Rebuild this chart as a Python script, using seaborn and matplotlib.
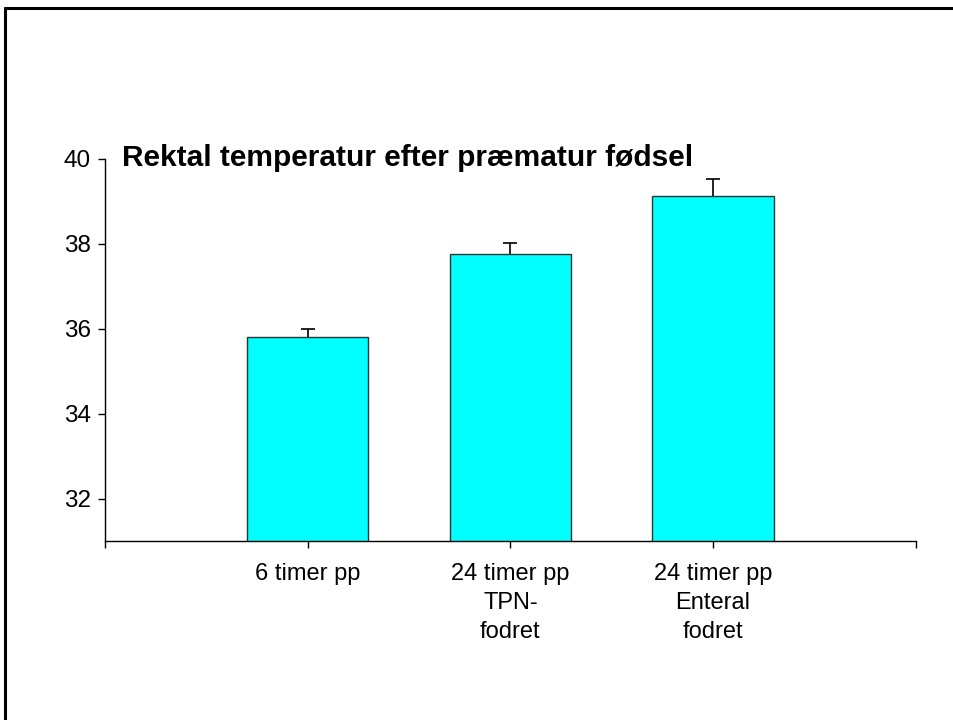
import matplotlib
matplotlib.use('Agg')
import matplotlib.pyplot as plt
import seaborn as sns
from matplotlib.lines import Line2D

# data
groups = ['6 timer pp', '24 timer pp\nTPN-\nfodret', '24 timer pp\nEnteral\nfodret']
temps = [35.81, 37.76, 39.12]
sem_up = [0.19, 0.27, 0.40]
y_ticks = [32, 34, 36, 38, 40]
title = 'Rektal temperatur efter præmatur fødsel'

sns.set_theme(style='ticks')
plt.rcParams['font.family'] = ['Liberation Sans', 'DejaVu Sans']

fig = plt.figure(figsize=(9.54, 7.2), dpi=100)
ax = fig.add_axes([0.110, 0.2486, 0.850, 0.5306])

sns.barplot(
    x=groups, y=temps, order=groups, color='#00FFFF', saturation=1,
    width=0.6, edgecolor='#333333', linewidth=1.0, ax=ax,
)
# upper error bars only
_, caps, _ = ax.errorbar(
    range(len(groups)), temps, yerr=[[0] * len(groups), sem_up],
    fmt='none', ecolor='black', elinewidth=1.2, capsize=5, capthick=1.2,
)
caps[0].set_visible(False)  # no cap on the bar top

ax.set_ylim(31, 40)
ax.set_yticks(y_ticks)
ax.set_yticklabels([str(t) for t in y_ticks])
ax.set_xlim(-1, 3)
ax.set_xticks([-1, 0, 1, 2, 3])
ax.set_xticklabels([''] + groups + [''])
ax.set_xlabel('')
ax.set_ylabel('')

for spine in ['top', 'right']:
    ax.spines[spine].set_visible(False)
for spine in ['left', 'bottom']:
    ax.spines[spine].set_color('black')
    ax.spines[spine].set_linewidth(1.0)

ax.tick_params(axis='y', direction='out', length=5, width=1, colors='black',
               labelsize=17.5, pad=5)
ax.tick_params(axis='x', direction='out', length=5, width=1, colors='black',
               labelsize=17, pad=11)
for lab in ax.get_xticklabels():
    lab.set_linespacing(1.4)

fig.text(122 / 954, 1 - 158 / 720, title, fontsize=21.5, fontweight='bold',
         ha='left', va='center', color='black')

# outer frame (top and left edges visible)
fig.add_artist(Line2D([5 / 954, 5 / 954], [0, 1 - 8 / 720], color='black',
                      linewidth=2.2, transform=fig.transFigure))
fig.add_artist(Line2D([5 / 954, 1], [1 - 8 / 720, 1 - 8 / 720], color='black',
                      linewidth=2.2, transform=fig.transFigure))

fig.savefig('out.png', dpi=100, facecolor='white')
print('done')
